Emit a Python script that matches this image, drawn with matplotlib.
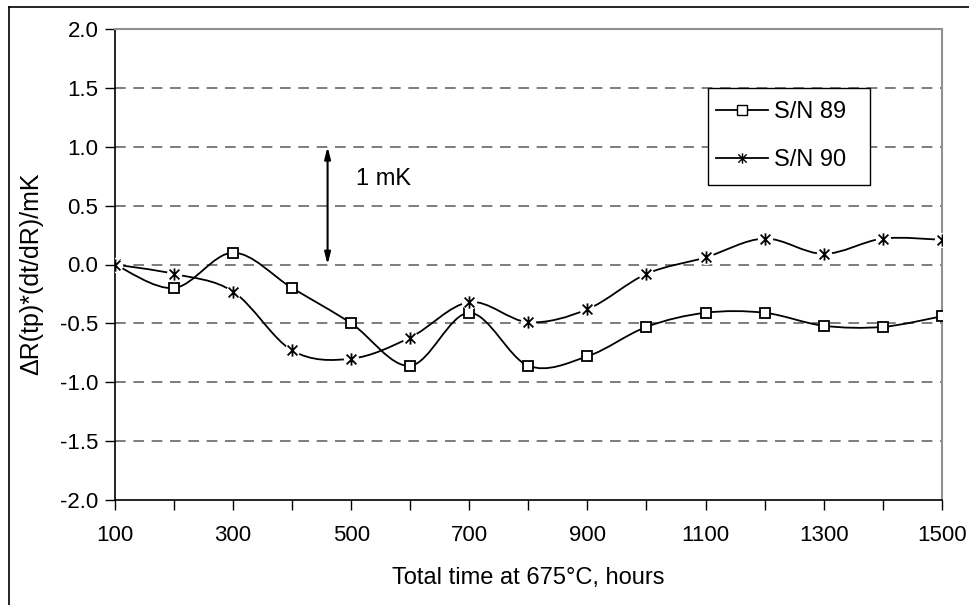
import numpy as np
import matplotlib
matplotlib.use('Agg')
import matplotlib.pyplot as plt
from matplotlib.path import Path
from matplotlib.patches import PathPatch, Rectangle
from matplotlib.lines import Line2D

plt.rcParams['font.family'] = ['Liberation Sans', 'DejaVu Sans']

# data
hours = [100, 200, 300, 400, 500, 600, 700, 800, 900, 1000, 1100, 1200, 1300, 1400, 1500]
sn89 = [0.0, -0.2, 0.1, -0.2, -0.5, -0.86, -0.41, -0.86, -0.78, -0.53, -0.41, -0.41, -0.52, -0.53, -0.44]
sn90 = [0.0, -0.08, -0.23, -0.73, -0.8, -0.62, -0.32, -0.49, -0.38, -0.08, 0.06, 0.22, 0.09, 0.22, 0.21]
labels = ['S/N 89', 'S/N 90']
yticks = [-2.0, -1.5, -1.0, -0.5, 0.0, 0.5, 1.0, 1.5, 2.0]
xticks_labeled = [100, 300, 500, 700, 900, 1100, 1300, 1500]
arrow_x = 460
arrow_span = (0.0, 1.0)
arrow_text = '1 mK'

W, H = 970, 605
fig = plt.figure(figsize=(W / 100, H / 100), dpi=100)
ax = fig.add_axes([115 / W, 1 - 500 / H, (941.7 - 115) / W, (500 - 29) / H])


def smooth_path(x, y):
    # Excel-style smoothed line: Catmull-Rom segments as cubic Beziers
    p = np.column_stack([x, y]).astype(float)
    verts = [p[0]]
    codes = [Path.MOVETO]
    n = len(p)
    for i in range(n - 1):
        p0 = p[i - 1] if i > 0 else p[i]
        p3 = p[i + 2] if i + 2 < n else p[i + 1]
        c1 = p[i] + (p[i + 1] - p0) / 6
        c2 = p[i + 1] - (p3 - p[i]) / 6
        verts += [c1, c2, p[i + 1]]
        codes += [Path.CURVE4] * 3
    return Path(verts, codes)


star = Path([(-1, -1), (1, 1), (-1, 1), (1, -1), (0, -1.25), (0, 1.25)],
            [Path.MOVETO, Path.LINETO, Path.MOVETO, Path.LINETO, Path.MOVETO, Path.LINETO])

for ys in (sn89, sn90):
    ax.add_patch(PathPatch(smooth_path(hours, ys), fill=False, edgecolor='black', lw=1.3, zorder=3))

ax.plot(hours, sn89, ls='none', marker='s', ms=7.5, mfc='white', mec='black', mew=1.3, zorder=4)
ax.plot(hours, sn90, ls='none', marker='o', ms=11, mfc='white', mec='none', zorder=4)
ax.plot(hours, sn90, ls='none', marker=star, ms=8.8, mec='black', mew=1.3, zorder=5)

# 1 mK arrow
ax.annotate('', xy=(arrow_x, arrow_span[1]), xytext=(arrow_x, arrow_span[0]),
            arrowprops=dict(arrowstyle='<|-|>,head_length=0.7,head_width=0.18', color='black', lw=1.5,
                            shrinkA=0, shrinkB=0))
ax.text(arrow_x + 48, 0.73, arrow_text, fontsize=17, va='center', ha='left')

ax.set_xlim(100, 1500)
ax.set_ylim(-2.0, 2.0)
ax.set_yticks(yticks)
ax.set_yticklabels([f'{v:.1f}' for v in yticks])
ax.set_xticks(xticks_labeled)
ax.set_xticks(hours, minor=True)
ax.tick_params(axis='both', direction='out', length=7, width=1, labelsize=16, color='black')
ax.tick_params(axis='x', which='minor', direction='out', length=7, width=1)
ax.tick_params(axis='y', pad=5)
ax.tick_params(axis='x', pad=11)

for v in yticks[1:-1]:
    ax.axhline(v, color='#5a5a5a', lw=1.1, dashes=(7, 5), zorder=1)

ax.spines['top'].set_color('#909090')
ax.spines['right'].set_color('#909090')
ax.spines['top'].set_linewidth(1.5)
ax.spines['right'].set_linewidth(1.5)
ax.spines['left'].set_linewidth(1.2)
ax.spines['bottom'].set_linewidth(1.2)

ax.set_xlabel('Total time at 675°C, hours', fontsize=17, labelpad=15)
fig.text(31 / W, 1 - 274 / H, 'ΔR(tp)*(dt/dR)/mK', rotation=90, fontsize=18, ha='center', va='center')

# legend: entries without frame, box drawn separately (reference box is wider on the right)
ax.add_patch(Rectangle((708 / W, 1 - 185 / H), 162 / W, 97 / H, transform=fig.transFigure,
                       fill=True, facecolor='white', edgecolor='black', lw=1.0, zorder=5.5, clip_on=False))
handles = [Line2D([], [], color='black', lw=1.3, marker='s', ms=6.5, mfc='white', mec='black'),
           Line2D([], [], color='black', lw=1.3, marker=star, ms=7.5, mec='black')]
leg = ax.legend(handles, labels, loc='center left', bbox_to_anchor=(716 / W, 1 - 136 / H),
                bbox_transform=fig.transFigure, fontsize=17, frameon=False,
                handlelength=2.2, handletextpad=0.25, labelspacing=1.12, borderpad=0, borderaxespad=0)
leg.set_zorder(6)

# outer chart frame
fig.add_artist(Line2D([9 / W, 1], [1 - 7 / H, 1 - 7 / H], color='black', lw=1.2))
fig.add_artist(Line2D([9 / W, 9 / W], [0, 1 - 7 / H], color='black', lw=1.2))

fig.savefig('out.png', dpi=100)
